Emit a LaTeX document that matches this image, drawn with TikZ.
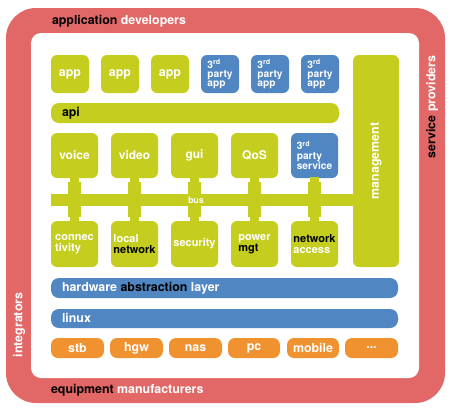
\documentclass[tikz,border=0pt]{standalone}
\usepackage{fontspec}
\setmainfont{TeX Gyre Heros}
\begin{document}
\begin{tikzpicture}[x=1pt,y=-1pt,
  every node/.style={inner sep=0pt,outer sep=0pt,font=\bfseries\fontsize{12.4}{13}\selectfont},
  lime/.style={fill=limec,rounded corners=6pt},
  bluebox/.style={fill=bluec,rounded corners=6pt},
  bar/.style={rounded corners=8pt},
  pill/.style={fill=orangec,rounded corners=7pt},
  small/.style={font=\bfseries\fontsize{11}{10.5}\selectfont,align=left},
  tiny/.style={font=\bfseries\fontsize{10.2}{9.2}\selectfont,align=left},
  lbl/.style={text=white}]
\definecolor{redc}{HTML}{E26868}
\definecolor{limec}{HTML}{C5CD1E}
\definecolor{bluec}{HTML}{5086C1}
\definecolor{orangec}{HTML}{F0922F}
\newcommand\bx[7]{\node[#6,minimum width={#4-#2},minimum height={#5-#3}] (#1) at ({(#2+#4)/2},{(#3+#5)/2}) {#7};}
\useasboundingbox (0,0) rectangle (450,408);
\fill[white] (0,0) rectangle (450,408);
% frame
\fill[redc,rounded corners=30pt] (6,8) rectangle (445,403);
\fill[white,rounded corners=10pt] (31,33) rectangle (419,378);
\node[anchor=west,text=white] (dev) at (52,21) {\textcolor{black}{application} developers};
\node[anchor=west,text=white] (man) at (51,390) {\textcolor{black}{equipment} manufacturers};
\node[rotate=90,text=white] (int) at (19,325) {integrators};
\node[rotate=90,text=white] (srv) at (432,107) {\textcolor{black}{service} providers};
% row 1
\bx{a1}{51}{55}{89}{93}{lime,lbl}{app}
\bx{a2}{101}{55}{139}{93}{lime,lbl}{app}
\bx{a3}{151}{55}{189}{93}{lime,lbl}{app}
\bx{a4}{201}{55}{239}{93}{bluebox,lbl,tiny}{3\textsuperscript{rd}\\party\\app}
\bx{a5}{251}{55}{289}{93}{bluebox,lbl,tiny}{3\textsuperscript{rd}\\party\\app}
\bx{a6}{301}{55}{339}{93}{bluebox,lbl,tiny}{3\textsuperscript{rd}\\party\\app}
% management
\bx{mg}{353}{55}{399}{267}{lime}{}
\node[rotate=90,text=white] (mgt) at (mg.center) {management};
% api
\bx{api}{51}{103}{339}{123}{fill=limec,bar}{}
\node[anchor=west] (apit) at (62,113) {api};
% row 2
\bx{v1}{51}{133}{98}{178}{lime,lbl,font=\bfseries\fontsize{12}{13}\selectfont}{voice}
\bx{v2}{111}{133}{158}{178}{lime,lbl,font=\bfseries\fontsize{12}{13}\selectfont}{video}
\bx{v3}{171}{133}{218}{178}{lime,lbl,font=\bfseries\fontsize{12}{13}\selectfont}{gui}
\bx{v4}{231}{133}{278}{178}{lime,lbl,font=\bfseries\fontsize{12}{13}\selectfont}{QoS}
\bx{v5}{291}{133}{338}{178}{bluebox,lbl,tiny}{3\textsuperscript{rd}\\party\\service}
% bus
\bx{bus}{51}{194}{360}{206}{fill=limec}{}
% row 3
\bx{b1}{51}{221}{98}{267}{lime,lbl,small}{connec\\tivity}
\bx{b2}{111}{221}{158}{267}{lime,lbl,small}{local\\\textcolor{black}{network}}
\bx{b3}{171}{221}{218}{267}{lime,lbl,small}{security}
\bx{b4}{231}{221}{278}{267}{lime,lbl,small}{power\\\textcolor{black}{mgt}}
\bx{b5}{291}{221}{338}{267}{lime,lbl,small}{\textcolor{black}{network}\\access}
% stems
\foreach \t/\b in {v1/b1,v2/b2,v3/b3,v4/b4,v5/b5}{
  \fill[limec] ([xshift=-4.5pt,yshift=1pt]\t.south) rectangle ([xshift=4.5pt,yshift=-1pt]\b.north);
  \fill[limec] ([xshift=-6.5pt,yshift=-4pt]\t.south) rectangle ([xshift=6.5pt,yshift=4pt]\b.north);
}
\node[text=white,font=\bfseries\fontsize{9}{10}\selectfont] (bust) at (196,200) {bus};
% bars
\bx{hal}{51}{278}{398}{298}{fill=bluec,bar}{}
\node[anchor=west,text=white] (halt) at (62,288) {hardware \textcolor{black}{abstraction} layer};
\bx{lnx}{51}{309}{398}{328}{fill=bluec,bar}{}
\node[anchor=west,text=white] (lnxt) at (62,318) {linux};
% devices
\bx{d1}{51}{338}{104}{358}{pill,lbl}{stb}
\bx{d2}{110}{338}{163}{358}{pill,lbl}{hgw}
\bx{d3}{169}{338}{222}{358}{pill,lbl}{nas}
\bx{d4}{228}{338}{280}{358}{pill,lbl}{pc}
\bx{d5}{287}{338}{339}{358}{pill,lbl}{mobile}
\bx{d6}{345}{338}{398}{358}{pill,lbl}{...}
\end{tikzpicture}
\end{document}
